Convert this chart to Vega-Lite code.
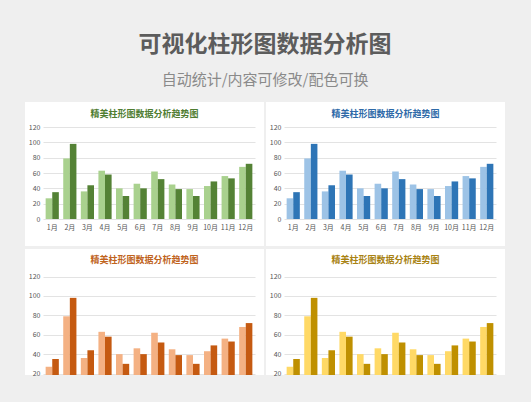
{
  "$schema": "https://vega.github.io/schema/vega-lite/v6.json",
  "background": "#efefef",
  "padding": {"top": 34, "left": 25, "right": 26, "bottom": 26},
  "title": {
    "text": "可视化柱形图数据分析图",
    "subtitle": "自动统计/内容可修改/配色可换",
    "font": "Noto Sans CJK SC",
    "subtitleFont": "Noto Sans CJK SC",
    "fontSize": 23,
    "fontWeight": "bold",
    "color": "#5c5c5c",
    "subtitleFontSize": 15,
    "subtitleColor": "#8a8a8a",
    "subtitlePadding": 16,
    "anchor": "middle",
    "offset": 14
  },
  "datasets": {
    "d": [
      {"month": "1月", "series": "A", "value": 27},
      {"month": "1月", "series": "B", "value": 35},
      {"month": "2月", "series": "A", "value": 79},
      {"month": "2月", "series": "B", "value": 98},
      {"month": "3月", "series": "A", "value": 36},
      {"month": "3月", "series": "B", "value": 44},
      {"month": "4月", "series": "A", "value": 63},
      {"month": "4月", "series": "B", "value": 58},
      {"month": "5月", "series": "A", "value": 40},
      {"month": "5月", "series": "B", "value": 30},
      {"month": "6月", "series": "A", "value": 46},
      {"month": "6月", "series": "B", "value": 40},
      {"month": "7月", "series": "A", "value": 62},
      {"month": "7月", "series": "B", "value": 52},
      {"month": "8月", "series": "A", "value": 45},
      {"month": "8月", "series": "B", "value": 39},
      {"month": "9月", "series": "A", "value": 39},
      {"month": "9月", "series": "B", "value": 30},
      {"month": "10月", "series": "A", "value": 43},
      {"month": "10月", "series": "B", "value": 49},
      {"month": "11月", "series": "A", "value": 56},
      {"month": "11月", "series": "B", "value": 53},
      {"month": "12月", "series": "A", "value": 68},
      {"month": "12月", "series": "B", "value": 72}
    ]
  },
  "config": {
    "view": {"stroke": null, "fill": "#ffffff"},
    "font": "Noto Sans CJK SC",
    "axis": {"labelFont": "Noto Sans CJK SC", "labelColor": "#555555"},
    "title": {"font": "Noto Sans CJK SC"}
  },
  "vconcat": [
    {
      "hconcat": [
        {
          "width": 239, "height": 144,
          "data": {"name": "d"},
          "title": {"text": "精美柱形图数据分析趋势图", "color": "#4f7d31", "fontSize": 9, "fontWeight": "bold", "anchor": "middle", "baseline": "middle", "offset": -21},
          "mark": {"type": "bar"},
          "encoding": {
            "x": {"field": "month", "type": "ordinal", "sort": ["1月","2月","3月","4月","5月","6月","7月","8月","9月","10月","11月","12月"], "scale": {"range": [18, 230], "paddingInner": 0.25, "paddingOuter": 0.15}, "axis": {"title": null, "labelAngle": 0, "labelFontSize": 7, "domain": false, "ticks": false, "labelPadding": 4, "offset": -27}},
            "xOffset": {"field": "series", "sort": ["A", "B"]},
            "y": {"field": "value", "type": "quantitative", "scale": {"domain": [0, 120], "range": [117, 25], "nice": false}, "axis": {"title": null, "values": [0,20,40,60,80,100,120], "labelFontSize": 7, "domain": false, "ticks": false, "labelPadding": 3, "offset": -18, "gridColor": "#e3e3e3"}},
            "color": {"field": "series", "scale": {"domain": ["A", "B"], "range": ["#a9d18e", "#548235"]}, "legend": null}
          }
        },
        {
          "width": 239, "height": 144,
          "data": {"name": "d"},
          "title": {"text": "精美柱形图数据分析趋势图", "color": "#2e6aa8", "fontSize": 9, "fontWeight": "bold", "anchor": "middle", "baseline": "middle", "offset": -21},
          "mark": {"type": "bar"},
          "encoding": {
            "x": {"field": "month", "type": "ordinal", "sort": ["1月","2月","3月","4月","5月","6月","7月","8月","9月","10月","11月","12月"], "scale": {"range": [18, 230], "paddingInner": 0.25, "paddingOuter": 0.15}, "axis": {"title": null, "labelAngle": 0, "labelFontSize": 7, "domain": false, "ticks": false, "labelPadding": 4, "offset": -27}},
            "xOffset": {"field": "series", "sort": ["A", "B"]},
            "y": {"field": "value", "type": "quantitative", "scale": {"domain": [0, 120], "range": [117, 25], "nice": false}, "axis": {"title": null, "values": [0,20,40,60,80,100,120], "labelFontSize": 7, "domain": false, "ticks": false, "labelPadding": 3, "offset": -18, "gridColor": "#e3e3e3"}},
            "color": {"field": "series", "scale": {"domain": ["A", "B"], "range": ["#9dc3e6", "#2e75b6"]}, "legend": null}
          }
        }
      ],
      "spacing": 2,
      "resolve": {"scale": {"color": "independent", "x": "independent", "y": "independent"}}
    },
    {
      "hconcat": [
        {
          "width": 239, "height": 126,
          "data": {"name": "d"},
          "title": {"text": "精美柱形图数据分析趋势图", "color": "#c0631c", "fontSize": 9, "fontWeight": "bold", "anchor": "middle", "baseline": "middle", "offset": -20},
          "mark": {"type": "bar", "clip": true},
          "encoding": {
            "x": {"field": "month", "type": "ordinal", "sort": ["1月","2月","3月","4月","5月","6月","7月","8月","9月","10月","11月","12月"], "scale": {"range": [18, 230], "paddingInner": 0.25, "paddingOuter": 0.15}, "axis": null},
            "xOffset": {"field": "series", "sort": ["A", "B"]},
            "y": {"field": "value", "type": "quantitative", "scale": {"domain": [18.5, 120], "range": [126, 27.5], "nice": false, "zero": false}, "axis": {"title": null, "values": [20,40,60,80,100,120], "labelFontSize": 7, "domain": false, "ticks": false, "labelPadding": 3, "offset": -18, "gridColor": "#e3e3e3"}},
            "color": {"field": "series", "scale": {"domain": ["A", "B"], "range": ["#f4b183", "#c55a11"]}, "legend": null}
          }
        },
        {
          "width": 239, "height": 126,
          "data": {"name": "d"},
          "title": {"text": "精美柱形图数据分析趋势图", "color": "#a88212", "fontSize": 9, "fontWeight": "bold", "anchor": "middle", "baseline": "middle", "offset": -20},
          "mark": {"type": "bar", "clip": true},
          "encoding": {
            "x": {"field": "month", "type": "ordinal", "sort": ["1月","2月","3月","4月","5月","6月","7月","8月","9月","10月","11月","12月"], "scale": {"range": [18, 230], "paddingInner": 0.25, "paddingOuter": 0.15}, "axis": null},
            "xOffset": {"field": "series", "sort": ["A", "B"]},
            "y": {"field": "value", "type": "quantitative", "scale": {"domain": [18.5, 120], "range": [126, 27.5], "nice": false, "zero": false}, "axis": {"title": null, "values": [20,40,60,80,100,120], "labelFontSize": 7, "domain": false, "ticks": false, "labelPadding": 3, "offset": -18, "gridColor": "#e3e3e3"}},
            "color": {"field": "series", "scale": {"domain": ["A", "B"], "range": ["#ffd966", "#bf9000"]}, "legend": null}
          }
        }
      ],
      "spacing": 2,
      "resolve": {"scale": {"color": "independent", "x": "independent", "y": "independent"}}
    }
  ],
  "spacing": 3,
  "resolve": {"scale": {"color": "independent", "x": "independent", "y": "independent"}}
}
